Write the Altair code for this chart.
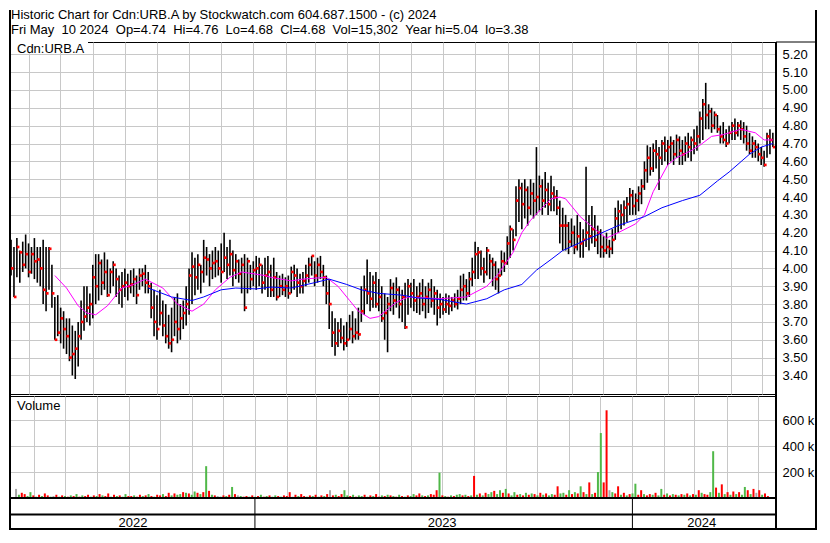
import altair as alt
import pandas as pd

header1 = "Historic Chart for Cdn:URB.A by Stockwatch.com 604.687.1500 - (c) 2024"
header2 = "Fri May  10 2024  Op=4.74  Hi=4.76  Lo=4.68  Cl=4.68  Vol=15,302  Year hi=5.04  lo=3.38"
symbol_label = "Cdn:URB.A"
volume_label = "Volume"

highs = [
    4.16, 4.12, 4.17, 4.10, 4.15, 4.19, 4.14, 4.12, 4.17, 4.12,
    4.12, 4.16, 4.12, 4.12, 4.02, 3.84, 3.85, 3.78, 3.76, 3.72,
    3.72, 3.68, 3.65, 3.70, 3.82, 3.90, 3.90, 3.86, 4.02, 4.08,
    4.08, 4.05, 4.09, 4.05, 4.00, 4.04, 4.00, 3.96, 3.98, 4.00,
    3.97, 3.99, 4.00, 3.96, 4.00, 4.00, 4.02, 3.98, 3.92, 3.88,
    3.85, 3.88, 3.82, 3.80, 3.74, 3.78, 3.84, 3.86, 3.80, 3.82,
    3.90, 4.00, 4.09, 4.06, 4.08, 4.02, 4.16, 4.12, 4.08, 4.10,
    4.12, 4.10, 4.14, 4.20, 4.12, 4.16, 4.10, 4.08, 4.05, 4.06,
    4.08, 4.06, 4.02, 4.04, 4.07, 4.06, 4.02, 4.06, 4.07, 4.02,
    4.06, 3.98, 3.96, 3.97, 3.95, 3.96, 4.01, 4.02, 4.00, 3.97,
    3.98, 4.02, 4.06, 4.07, 4.04, 4.06, 4.07, 4.02, 3.96, 3.94,
    3.76, 3.72, 3.70, 3.72, 3.68, 3.70, 3.74, 3.76, 3.72, 3.78,
    3.90, 3.96, 4.05, 3.98, 3.96, 3.98, 3.94, 3.90, 3.86, 3.84,
    3.94, 3.92, 3.95, 3.90, 3.88, 3.92, 3.94, 3.92, 3.94, 3.90,
    3.92, 3.94, 3.90, 3.92, 3.94, 3.90, 3.88, 3.86, 3.84, 3.86,
    3.85, 3.84, 3.86, 3.88, 3.96, 3.97, 3.94, 3.98, 4.06, 4.15,
    4.12, 4.10, 4.06, 4.12, 4.08, 4.06, 4.04, 4.00, 4.10, 4.09,
    4.18, 4.24, 4.22, 4.46, 4.50, 4.48, 4.50, 4.46, 4.50, 4.48,
    4.68, 4.52, 4.50, 4.54, 4.48, 4.52, 4.46, 4.44, 4.38, 4.34,
    4.30, 4.26, 4.28, 4.24, 4.30, 4.26, 4.22, 4.57, 4.30, 4.35,
    4.30, 4.24, 4.22, 4.18, 4.20, 4.16, 4.22, 4.34, 4.38, 4.36,
    4.38, 4.40, 4.45, 4.44, 4.42, 4.46, 4.50, 4.60, 4.69, 4.68,
    4.70, 4.72, 4.68, 4.72, 4.74, 4.72, 4.74, 4.72, 4.75, 4.74,
    4.72, 4.74, 4.76, 4.74, 4.78, 4.80, 4.88, 4.95, 5.04, 4.92,
    4.90, 4.88, 4.86, 4.80, 4.82, 4.78, 4.80, 4.82, 4.84, 4.82,
    4.83, 4.82, 4.80, 4.76, 4.74, 4.72, 4.70, 4.68, 4.66, 4.76, 4.78, 4.76,
]
lows = [
    3.96, 3.84, 3.95, 3.92, 3.98, 4.00, 3.95, 3.97, 3.94, 3.92,
    3.90, 3.80, 3.76, 3.88, 3.78, 3.60, 3.62, 3.58, 3.55, 3.52,
    3.48, 3.40, 3.38, 3.45, 3.60, 3.65, 3.70, 3.68, 3.72, 3.80,
    3.82, 3.85, 3.88, 3.84, 3.86, 3.90, 3.84, 3.80, 3.78, 3.84,
    3.82, 3.86, 3.84, 3.80, 3.88, 3.90, 3.86, 3.86, 3.72, 3.62,
    3.60, 3.68, 3.62, 3.58, 3.55, 3.53, 3.62, 3.58, 3.60, 3.66,
    3.68, 3.74, 3.80, 3.85, 3.88, 3.86, 3.92, 3.96, 3.90, 3.94,
    3.95, 3.96, 3.92, 3.98, 3.94, 3.96, 3.90, 3.94, 3.92, 3.86,
    3.76, 3.86, 3.88, 3.90, 3.88, 3.90, 3.86, 3.88, 3.84, 3.84,
    3.84, 3.82, 3.84, 3.85, 3.84, 3.83, 3.86, 3.88, 3.84, 3.86,
    3.86, 3.90, 3.92, 3.96, 3.90, 3.92, 3.94, 3.90, 3.80, 3.66,
    3.56, 3.51, 3.56, 3.58, 3.54, 3.56, 3.60, 3.58, 3.60, 3.60,
    3.70, 3.74, 3.80, 3.76, 3.78, 3.78, 3.76, 3.70, 3.60, 3.53,
    3.76, 3.74, 3.78, 3.72, 3.70, 3.66, 3.74, 3.78, 3.76, 3.75,
    3.74, 3.76, 3.72, 3.75, 3.78, 3.74, 3.68, 3.72, 3.74, 3.75,
    3.74, 3.76, 3.78, 3.77, 3.80, 3.82, 3.82, 3.84, 3.90, 3.94,
    3.94, 3.96, 3.92, 3.96, 3.94, 3.90, 3.88, 3.86, 3.96, 3.98,
    4.02, 4.06, 4.10, 4.18, 4.26, 4.22, 4.28, 4.24, 4.30, 4.28,
    4.30, 4.32, 4.30, 4.34, 4.30, 4.32, 4.32, 4.30, 4.14, 4.10,
    4.10, 4.08, 4.12, 4.08, 4.10, 4.06, 4.06, 4.12, 4.10, 4.14,
    4.12, 4.08, 4.06, 4.06, 4.08, 4.06, 4.08, 4.16, 4.20, 4.22,
    4.24, 4.26, 4.30, 4.30, 4.30, 4.32, 4.36, 4.44, 4.48, 4.52,
    4.54, 4.56, 4.44, 4.58, 4.60, 4.58, 4.60, 4.58, 4.62, 4.58,
    4.58, 4.60, 4.62, 4.60, 4.64, 4.66, 4.70, 4.72, 4.78, 4.78,
    4.76, 4.78, 4.76, 4.70, 4.70, 4.68, 4.70, 4.72, 4.72, 4.74,
    4.72, 4.70, 4.66, 4.64, 4.62, 4.62, 4.60, 4.58, 4.57, 4.62, 4.64, 4.68,
]
closes = [
    4.00, 3.84, 4.12, 4.09, 4.02, 4.08, 3.98, 4.08, 4.04, 4.05,
    4.00, 3.88, 3.86, 4.11, 3.86, 3.60, 3.64, 3.72, 3.66, 3.62,
    3.50, 3.52, 3.55, 3.62, 3.70, 3.73, 3.78, 3.80, 3.95, 3.90,
    4.03, 3.92, 3.98, 3.85, 3.98, 4.02, 3.94, 3.88, 3.90, 3.92,
    3.90, 3.91, 3.94, 3.85, 3.96, 3.97, 3.92, 3.90, 3.78, 3.70,
    3.66, 3.75, 3.68, 3.62, 3.58, 3.60, 3.70, 3.66, 3.72, 3.75,
    3.80, 3.96, 4.01, 3.95, 4.02, 3.98, 4.06, 4.05, 4.00, 4.03,
    4.04, 4.00, 3.98, 4.06, 4.02, 4.08, 3.99, 4.04, 3.97, 4.02,
    3.78, 4.04, 3.94, 3.99, 4.00, 4.02, 3.92, 3.96, 3.98, 3.88,
    3.95, 3.84, 3.90, 3.88, 3.90, 3.86, 3.98, 3.96, 3.92, 3.90,
    3.93, 3.96, 4.02, 4.07, 3.96, 4.02, 3.98, 3.95, 3.86, 3.80,
    3.64, 3.58, 3.65, 3.61, 3.58, 3.60, 3.66, 3.62, 3.64, 3.63,
    3.76, 3.88, 3.86, 3.83, 3.92, 3.80, 3.84, 3.72, 3.75, 3.80,
    3.89, 3.82, 3.88, 3.80, 3.84, 3.67, 3.90, 3.86, 3.82, 3.84,
    3.86, 3.80, 3.84, 3.88, 3.82, 3.86, 3.78, 3.80, 3.77, 3.80,
    3.79, 3.82, 3.80, 3.83, 3.88, 3.90, 3.86, 3.94, 3.98, 4.08,
    4.09, 4.00, 3.98, 4.10, 4.04, 4.02, 3.94, 3.96, 4.04, 4.03,
    4.14, 4.22, 4.16, 4.38, 4.45, 4.36, 4.44, 4.34, 4.42, 4.38,
    4.40, 4.46, 4.38, 4.44, 4.36, 4.42, 4.40, 4.34, 4.24, 4.24,
    4.24, 4.15, 4.20, 4.12, 4.18, 4.14, 4.16, 4.20, 4.18, 4.22,
    4.16, 4.20, 4.12, 4.10, 4.12, 4.11, 4.16, 4.28, 4.32, 4.30,
    4.34, 4.36, 4.41, 4.35, 4.38, 4.42, 4.46, 4.55, 4.62, 4.56,
    4.66, 4.64, 4.62, 4.70, 4.66, 4.68, 4.70, 4.64, 4.72, 4.66,
    4.64, 4.70, 4.68, 4.72, 4.70, 4.74, 4.84, 4.92, 4.86, 4.88,
    4.80, 4.86, 4.78, 4.74, 4.72, 4.70, 4.76, 4.80, 4.76, 4.80,
    4.78, 4.74, 4.70, 4.66, 4.70, 4.68, 4.64, 4.62, 4.58, 4.74, 4.72, 4.68,
]
volumes_k = [
    70, 25, 40, 30, 15, 45, 20, 10, 25, 15,
    35, 20, 10, 15, 25, 10, 20, 15, 10, 20,
    15, 30, 10, 20, 15, 25, 10, 20, 15, 30,
    20, 15, 35, 10, 25, 15, 20, 10, 30, 15,
    15, 20, 10, 25, 15, 20, 30, 15, 10, 25,
    20, 30, 15, 40, 20, 35, 25, 30, 45, 40,
    35, 25, 50, 40, 30, 45, 245, 55, 25, 20,
    15, 10, 20, 15, 25, 85, 30, 20, 15, 10,
    15, 10, 20, 10, 15, 25, 10, 15, 20, 10,
    20, 15, 10, 20, 15, 45, 10, 25, 15, 30,
    15, 10, 20, 15, 25, 10, 20, 15, 30, 60,
    20, 25, 15, 30, 60, 20, 15, 25, 10, 20,
    15, 25, 10, 20, 15, 30, 10, 20, 15, 25,
    20, 15, 10, 25, 15, 10, 20, 15, 30, 20,
    35, 20, 15, 20, 30, 25, 60, 195, 20, 15,
    10, 20, 15, 25, 30, 20, 25, 15, 20, 170,
    25, 35, 20, 40, 30, 45, 55, 30, 60, 40,
    70, 35, 20, 45, 25, 30, 20, 40, 25, 35,
    30, 20, 40, 25, 35, 20, 30, 25, 90, 35,
    40, 25, 60, 30, 45, 35, 90, 45, 30, 120,
    30, 40, 200, 500, 120, 675, 60, 45, 35, 90,
    25, 40, 20, 30, 35, 110, 25, 60, 30, 20,
    30, 25, 40, 20, 70, 25, 35, 20, 30, 25,
    20, 30, 25, 35, 20, 30, 25, 60, 40, 30,
    25, 45, 360, 80, 40, 105, 30, 45, 25, 50,
    30, 45, 25, 85, 60, 30, 70, 40, 60, 25, 35, 15,
]
# g = up day (green), r = down day (red), n = unchanged (grey)
volume_colors = [
    "ngrrggrgrg", "rrgnrgrgrg", "rgrgrrgrgr", "grrgrgrggr", "rgrrgrgrgr",
    "rgrrgrggrg", "rggrgrgrgr", "ngrgrgrngr", "rgrgrgrgrg", "grgrrrnrgr",
    "rgrgrgrgrn", "rgrrggrgrg", "grgrgrrgrg", "rgrgrgrggr", "rgrgrrrgrg",
    "rgrggrgrgr", "grgrggrggr", "grggrgrgrg", "rgrgrggrrg", "grgrgrgrgr",
    "grggrrngrr", "grgrggrrgr", "rgrggrgrgr", "grgrgrgrgr", "rggrgrgrgr",
    "grggrgrnrgrr",
]
ma_fast_idx = [15, 19, 23, 26, 29, 33, 38, 42, 46, 52, 57, 62, 66, 70, 75, 79, 87, 89, 96, 100,
               108, 112, 116, 119, 123, 126, 132, 136, 147, 156, 163, 167, 172, 175, 178, 182,
               185, 188, 190, 195, 200, 204, 208, 214, 217, 220, 225, 228, 233, 236, 240, 244,
               250, 255, 258, 261]
ma_fast_val = [3.96, 3.89, 3.79, 3.75, 3.74, 3.79, 3.89, 3.91, 3.94, 3.89, 3.80, 3.76, 3.80, 3.88,
               3.95, 3.98, 3.96, 3.95, 3.93, 3.94, 3.95, 3.90, 3.82, 3.76, 3.72, 3.73, 3.81, 3.84,
               3.83, 3.84, 3.90, 3.97, 4.09, 4.20, 4.27, 4.34, 4.39, 4.40, 4.39, 4.29, 4.22, 4.17,
               4.20, 4.25, 4.30, 4.43, 4.58, 4.62, 4.66, 4.69, 4.74, 4.75, 4.78, 4.76, 4.72, 4.72]
ma_slow_idx = [47, 55, 62, 66, 72, 77, 84, 89, 96, 104, 109, 115, 120, 126, 134, 139, 147, 156,
               163, 169, 175, 180, 185, 189, 197, 208, 217, 223, 230, 236, 242, 246, 253, 257, 261]
ma_slow_val = [3.89, 3.84, 3.82, 3.84, 3.88, 3.89, 3.885, 3.895, 3.89, 3.92, 3.94, 3.91, 3.88,
               3.86, 3.85, 3.835, 3.826, 3.80, 3.83, 3.88, 3.91, 3.99, 4.05, 4.10, 4.16, 4.24,
               4.29, 4.34, 4.38, 4.41, 4.49, 4.54, 4.64, 4.68, 4.70]
price_ticks = [3.40, 3.50, 3.60, 3.70, 3.80, 3.90, 4.00, 4.10, 4.20, 4.30,
               4.40, 4.50, 4.60, 4.70, 4.80, 4.90, 5.00, 5.10, 5.20]
volume_ticks = [200000, 400000, 600000]
year_labels = ["2022", "2023", "2024"]
year_label_dates = ["2022-09-05", "2023-07-01", "2024-03-08"]
year_bounds = ["2023-01-01", "2024-01-01"]

# ---------------- data tables ----------------
N = len(closes)
dates = pd.date_range("2022-05-15", "2024-05-11", periods=N)
bars = pd.DataFrame({
    "date": dates, "high": highs, "low": lows, "close": closes,
    "vol": [v * 1000 for v in volumes_k],
    "vc": list("".join(volume_colors)),
})
fast = pd.DataFrame({"date": dates[ma_fast_idx], "ma": ma_fast_val})
slow = pd.DataFrame({"date": dates[ma_slow_idx], "ma": ma_slow_val})
years_df = pd.DataFrame({"date": pd.to_datetime(year_label_dates), "year": year_labels})
bounds_df = pd.DataFrame({"date": pd.to_datetime(year_bounds)})
one = pd.DataFrame({"k": [0]})

# ---------------- layout ----------------
W, H1, H2 = 766, 352, 102
RC = 40
HEAD = 32
BAND = 31
FONT = "Liberation Sans"
GRID = "#C8C8C8"

xscale = alt.Scale(domain=[alt.DateTime(year=2022, month=5, date=14),
                           alt.DateTime(year=2024, month=5, date=14)])
xaxis = alt.Axis(grid=True, gridColor=GRID, gridWidth=1, labels=False, ticks=False,
                 domain=False, title=None, tickCount={"interval": "month", "step": 1})
X = alt.X("date:T", scale=xscale, axis=xaxis)

yscale = alt.Scale(domain=[3.296, 5.269], nice=False, zero=False)
yaxis = alt.Axis(orient="right", values=price_ticks, format=".2f", grid=True, gridColor=GRID,
                 ticks=False, domain=False, labelFont=FONT, labelFontSize=13,
                 labelColor="black", labelPadding=6, title=None)

vscale = alt.Scale(domain=[0, 785000], nice=False)
vaxis = alt.Axis(orient="right", values=volume_ticks, labelExpr="datum.value/1000 + ' k'",
                 grid=True, gridColor=GRID, ticks=False, domain=False, labelFont=FONT,
                 labelFontSize=13, labelColor="black", labelPadding=6, title=None)


def text_layer(s, x, y, size=13, align="left"):
    return alt.Chart(pd.DataFrame({"t": [s]})).mark_text(
        align=align, baseline="middle", font=FONT, fontSize=size, color="black"
    ).encode(text="t:N", x=alt.value(x), y=alt.value(y))


def rule_layer(x, x2, y, y2, w):
    return alt.Chart(one).mark_rule(color="black", strokeWidth=w).encode(
        x=alt.value(x), x2=alt.value(x2), y=alt.value(y), y2=alt.value(y2))


hl = alt.Chart(bars).mark_rule(color="black", strokeWidth=1.6).encode(
    x=X, y=alt.Y("low:Q", scale=yscale, axis=yaxis), y2="high:Q")
cl = alt.Chart(bars).mark_square(color="#FF0000", size=7, opacity=1, xOffset=1.2).encode(
    x=X, y=alt.Y("close:Q", scale=yscale, axis=yaxis))
mf = alt.Chart(fast).mark_line(color="#FF00FF", strokeWidth=1).encode(
    x=X, y=alt.Y("ma:Q", scale=yscale, axis=yaxis))
ms = alt.Chart(slow).mark_line(color="#0000FF", strokeWidth=1).encode(
    x=X, y=alt.Y("ma:Q", scale=yscale, axis=yaxis))
label_box = alt.Chart(one).mark_rect(color="white").encode(
    x=alt.value(0), x2=alt.value(78), y=alt.value(0), y2=alt.value(11))

price = alt.layer(
    hl, cl, mf, ms, label_box,
    text_layer(symbol_label, 7, 6.5),
    text_layer(header1, 1, -27),
    text_layer(header2.replace("  ", " \u00a0"), 1, -12.5),
    rule_layer(W, W + RC, 0, 0, 1),
).properties(width=W, height=H1)

vbars = alt.Chart(bars).mark_bar(size=2).encode(
    x=X,
    y=alt.Y("vol:Q", scale=vscale, axis=vaxis),
    color=alt.Color("vc:N", scale=alt.Scale(domain=["g", "r", "n"],
                                            range=["#50B848", "#FF0000", "#A8A8A8"]),
                    legend=None),
)
dividers = alt.Chart(bounds_df).mark_rule(color="black", strokeWidth=1).encode(
    x=X, y=alt.value(H2), y2=alt.value(H2 + BAND))
ylabels = alt.Chart(years_df).mark_text(
    font=FONT, fontSize=13, color="black", baseline="middle", align="center"
).encode(x=X, text="year:N", y=alt.value(H2 + 24.5))

top = -(H1 + 2 + HEAD)
volume = alt.layer(
    vbars, dividers, ylabels,
    text_layer(volume_label, 7, 10),
    rule_layer(0, W, H2, H2, 2),
    rule_layer(0, W, H2 + 16.5, H2 + 16.5, 2),
    rule_layer(0, W + RC, H2 + BAND, H2 + BAND, 2),
    rule_layer(0, 0, top, H2 + BAND + 1, 2),
    rule_layer(W, W, -(H1 + 2), H2 + BAND + 1, 2),
    rule_layer(W + RC, W + RC, top, H2 + BAND + 1, 2),
).properties(width=W, height=H2)

chart = alt.vconcat(price, volume, spacing=2, bounds="flush").properties(
    padding=0, background="white"
).configure_view(stroke="black", strokeWidth=1)

chart.save("out.html", embed_options={"renderer": "svg", "actions": False})
